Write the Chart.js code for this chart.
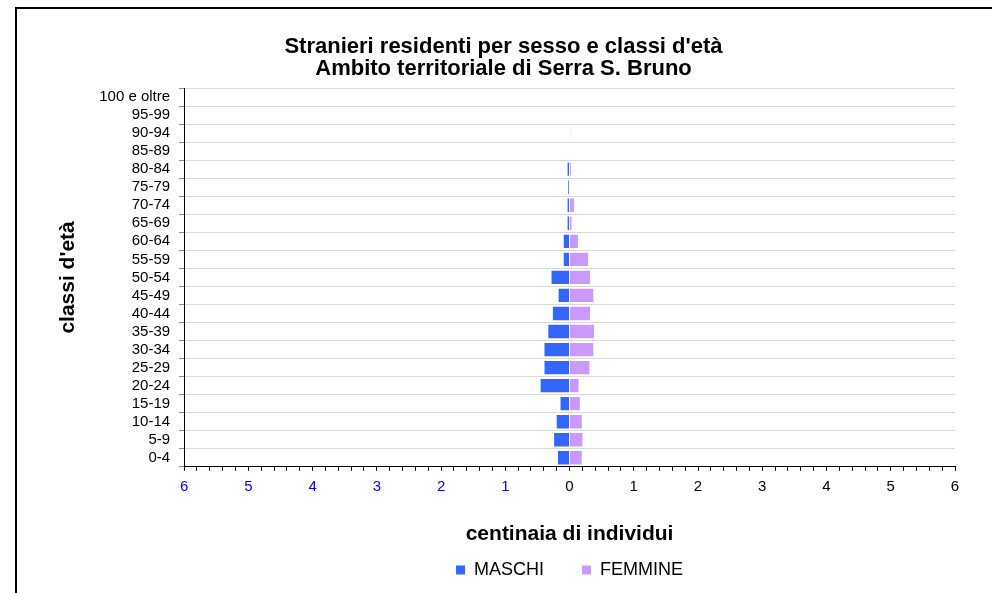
<!DOCTYPE html>
<html>
<head>
<meta charset="utf-8">
<script src="https://cdn.jsdelivr.net/npm/chart.js@4.4.1/dist/chart.umd.min.js"></script>
<style>
    html, body { margin: 0; padding: 0; background: #fff; }
    #box { position: relative; width: 992px; height: 593px; }
    #cornice { position: absolute; left: 15px; top: 7px; right: 0; bottom: 0; border-left: 2px solid #000; border-top: 2px solid #000; }
    #ChartStranieri { position: absolute; left: 0; top: 0; }
</style>
</head>
<body>
<div id="box">
    <div id="cornice"></div>
    <canvas id="ChartStranieri" width="992" height="593"></canvas>
</div>
<script>
// classi d'età dal basso verso l'alto
const classi = ['0-4', '5-9', '10-14', '15-19', '20-24', '25-29', '30-34', '35-39', '40-44', '45-49',
    '50-54', '55-59', '60-64', '65-69', '70-74', '75-79', '80-84', '85-89', '90-94', '95-99', '100 e oltre'];

// centinaia di individui
const maschi = [0.18, 0.24, 0.20, 0.14, 0.45, 0.39, 0.39, 0.33, 0.26, 0.17,
    0.28, 0.09, 0.09, 0.03, 0.03, 0.02, 0.03, 0, 0, 0, 0];
const femmine = [0.19, 0.20, 0.19, 0.16, 0.14, 0.31, 0.37, 0.38, 0.32, 0.37,
    0.32, 0.29, 0.13, 0.03, 0.07, 0, 0.02, 0, 0.01, 0, 0];

const xMin = -6;
const xMax = 6;

Chart.defaults.font.family = "'Liberation Sans', Arial, sans-serif";
Chart.defaults.color = '#000';

const ctx = document.getElementById('ChartStranieri').getContext('2d');

const data = {
    labels: classi,
    datasets: [{
        label: 'MASCHI',
        data: maschi.map(v => -v),
        backgroundColor: '#3366ff',
        borderWidth: 0,
        barPercentage: 0.74,
        categoryPercentage: 1
    }, {
        label: 'FEMMINE',
        data: femmine,
        backgroundColor: '#cc99ff',
        borderWidth: 0,
        barPercentage: 0.74,
        categoryPercentage: 1
    }]
};

const chartStranieri = new Chart(ctx, {
    type: 'bar',
    data: data,
    options: {
        indexAxis: 'y',
        responsive: false,
        animation: false,
        devicePixelRatio: 1,
        layout: { padding: { left: 52, right: 37, top: 0, bottom: 4 } },
        plugins: {
            tooltip: { enabled: false },
            title: {
                display: true,
                text: ["Stranieri residenti per sesso e classi d'età", 'Ambito territoriale di Serra S. Bruno'],
                font: { size: 22, weight: 'bold', lineHeight: 1.0 },
                padding: { top: 36, bottom: 8 }
            },
            legend: {
                position: 'bottom',
                fullSize: false,
                labels: {
                    boxWidth: 9,
                    boxHeight: 9,
                    padding: 38,
                    font: { size: 18 }
                }
            }
        },
        scales: {
            x: {
                stacked: true,
                min: xMin,
                max: xMax,
                border: { display: true, color: '#000', width: 1 },
                grid: { drawOnChartArea: false, drawTicks: true, tickLength: 4, color: '#000' },
                ticks: {
                    stepSize: 0.2,
                    autoSkip: false,
                    maxRotation: 0,
                    padding: 7,
                    font: { size: 15 },
                    color: c => (c.tick && c.tick.value < 0 ? '#0000ff' : '#000'),
                    callback: v => (Math.abs(v - Math.round(v)) < 1e-6 ? String(Math.abs(Math.round(v))) : '')
                },
                title: {
                    display: true,
                    text: 'centinaia di individui',
                    font: { size: 21, weight: 'bold' },
                    padding: { top: 19, bottom: -24 }
                }
            },
            y: {
                stacked: true,
                reverse: true,
                border: { display: true, color: '#000', width: 1 },
                grid: { color: '#d9d9d9', tickColor: '#888', tickLength: 5 },
                ticks: { font: { size: 15 }, padding: 9, autoSkip: false },
                title: {
                    display: true,
                    text: "classi d'età",
                    font: { size: 21, weight: 'bold' },
                    padding: { top: 4, bottom: 9 }
                }
            }
        }
    }
});
</script>
</body>
</html>
